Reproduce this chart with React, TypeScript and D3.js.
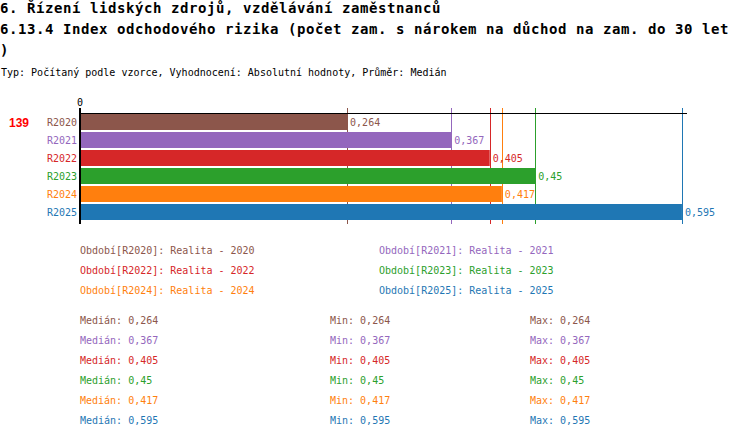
import * as React from "react";
import * as d3 from "d3";

const title1 = "6. Řízení lidských zdrojů, vzdělávání zaměstnanců";
const title2 = "6.13.4 Index odchodového rizika (počet zam. s nárokem na důchod na zam. do 30 let";
const title3 = ")";
const subtitle = "Typ: Počítaný podle vzorce, Vyhodnocení: Absolutní hodnoty, Průměr: Medián";

const periods = ["R2020", "R2021", "R2022", "R2023", "R2024", "R2025"];
const years = ["2020", "2021", "2022", "2023", "2024", "2025"];
const medians = [0.264, 0.367, 0.405, 0.45, 0.417, 0.595];
const mins = [0.264, 0.367, 0.405, 0.45, 0.417, 0.595];
const maxs = [0.264, 0.367, 0.405, 0.45, 0.417, 0.595];
const colors = ["#8c564b", "#9467bd", "#d62728", "#2ca02c", "#ff7f0e", "#1f77b4"];
const countLabel = "139";

const fmt = (v: number) => String(v).replace(".", ",");

const Chart = () => {
  const svgRef = React.useRef<SVGSVGElement>(null);

  React.useEffect(() => {
    const width = 750;
    const height = 438;
    const mono = "'DejaVu Sans Mono', monospace";

    const svg = d3.select(svgRef.current).attr("width", width).attr("height", height);
    svg.selectAll("*").remove();

    // titles
    const titles = [title1, title2, title3];
    titles.forEach((t, i) => {
      svg
        .append("text")
        .attr("x", 0)
        .attr("y", 13 + i * 21)
        .attr("font-family", mono)
        .attr("font-weight", "bold")
        .attr("font-size", "14px")
        .attr("letter-spacing", "0.57px")
        .attr("fill", "#000")
        .text(t);
    });
    svg
      .append("text")
      .attr("x", 1)
      .attr("y", 76)
      .attr("font-family", mono)
      .attr("font-size", "10px")
      .attr("fill", "#000")
      .text(subtitle);

    const x = d3.scaleLinear().domain([0, 0.6]).range([80, 687]);
    const y = d3
      .scaleBand()
      .domain(periods)
      .range([113, 221])
      .paddingInner(1 / 9)
      .paddingOuter(1 / 18);

    // median reference lines (behind bars)
    svg
      .append("g")
      .selectAll("line")
      .data(medians)
      .enter()
      .append("line")
      .attr("x1", (d) => Math.round(x(d)) + 0.5)
      .attr("x2", (d) => Math.round(x(d)) + 0.5)
      .attr("y1", 108)
      .attr("y2", 224)
      .attr("stroke", (d, i) => colors[i])
      .attr("stroke-width", 1);

    // top axis line
    svg
      .append("line")
      .attr("x1", x(0))
      .attr("x2", x(0.6))
      .attr("y1", 113.5)
      .attr("y2", 113.5)
      .attr("stroke", "#000")
      .attr("stroke-width", 1);

    const rows = svg
      .append("g")
      .selectAll("g")
      .data(periods)
      .enter()
      .append("g");

    rows
      .append("rect")
      .attr("x", x(0))
      .attr("y", (d) => y(d)!)
      .attr("width", (d, i) => x(medians[i]) - x(0))
      .attr("height", y.bandwidth())
      .attr("fill", (d, i) => colors[i]);

    rows
      .append("text")
      .attr("x", (d, i) => x(medians[i]) + 3)
      .attr("y", (d) => y(d)! + y.bandwidth() / 2 + 4)
      .attr("font-family", mono)
      .attr("font-size", "10px")
      .attr("fill", (d, i) => colors[i])
      .text((d, i) => fmt(medians[i]));

    rows
      .append("text")
      .attr("x", 77)
      .attr("y", (d) => y(d)! + y.bandwidth() / 2 + 4)
      .attr("text-anchor", "end")
      .attr("font-family", mono)
      .attr("font-size", "10px")
      .attr("fill", (d, i) => colors[i])
      .text((d) => d);

    // left axis
    svg
      .append("line")
      .attr("x1", 80)
      .attr("x2", 80)
      .attr("y1", 108)
      .attr("y2", 224)
      .attr("stroke", "#000")
      .attr("stroke-width", 2);

    svg
      .append("text")
      .attr("x", 80)
      .attr("y", 106)
      .attr("text-anchor", "middle")
      .attr("font-family", mono)
      .attr("font-size", "10px")
      .attr("fill", "#000")
      .text(x.domain()[0]);

    svg
      .append("text")
      .attr("x", 9)
      .attr("y", 127)
      .attr("font-family", "'Liberation Sans', Arial, sans-serif")
      .attr("font-weight", "bold")
      .attr("font-size", "12px")
      .attr("fill", "#ff0000")
      .text(countLabel);

    // legend
    const legend = svg
      .append("g")
      .selectAll("text")
      .data(periods)
      .enter()
      .append("text")
      .attr("x", (d, i) => (i % 2 === 0 ? 80 : 379))
      .attr("y", (d, i) => 254 + Math.floor(i / 2) * 20)
      .attr("font-family", mono)
      .attr("font-size", "10px")
      .attr("fill", (d, i) => colors[i])
      .text((d, i) => `Období[${d}]: Realita - ${years[i]}`);

    // stats
    const statCols = [
      { label: "Medián", vals: medians, x: 80 },
      { label: "Min", vals: mins, x: 330 },
      { label: "Max", vals: maxs, x: 530 },
    ];
    statCols.forEach((c) => {
      svg
        .append("g")
        .selectAll("text")
        .data(c.vals)
        .enter()
        .append("text")
        .attr("x", c.x)
        .attr("y", (d, i) => 324 + i * 20)
        .attr("font-family", mono)
        .attr("font-size", "10px")
        .attr("fill", (d, i) => colors[i])
        .text((d) => `${c.label}: ${fmt(d)}`);
    });
  }, []);

  return <svg ref={svgRef} style={{ display: "block" }} />;
};

export default function App() {
  return (
    <div style={{ position: "absolute", left: 0, top: 0, background: "#fff" }}>
      <Chart />
    </div>
  );
}
